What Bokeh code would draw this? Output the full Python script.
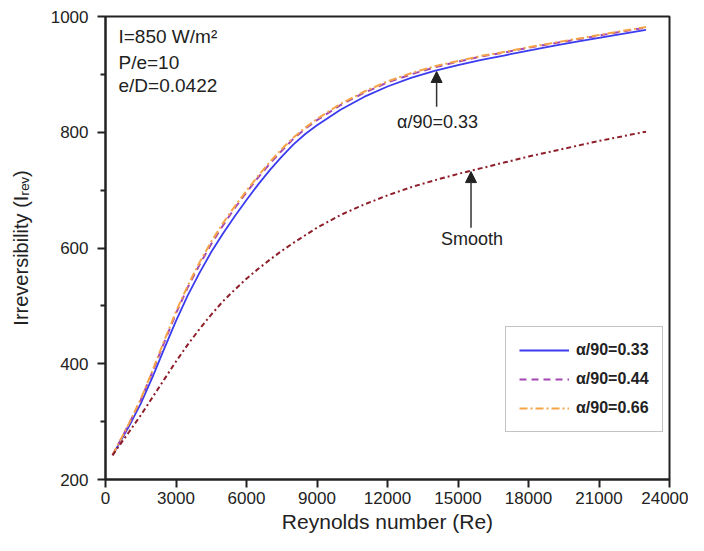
from bokeh.plotting import figure
from bokeh.models import Label, Arrow, NormalHead, FixedTicker, Range1d
from bokeh.embed import file_html
from bokeh.resources import INLINE

# ---- data ----
reynolds = [300, 1000, 1500, 2000, 2500, 3000, 3500, 4000, 4500, 5000,
            5500, 6000, 6500, 7000, 7500, 8000, 8500, 9000, 10000, 11000,
            12000, 13000, 14000, 15000, 16000, 17000, 18000, 19000, 20000,
            21000, 22000, 23000]
alpha_033 = [242, 292, 331, 377, 426, 474, 518, 557, 593, 625,
             655, 683, 710, 735, 758, 779, 797, 812, 839, 861,
             879, 894, 906, 916, 925, 933, 941, 949, 956, 963, 970, 977]
alpha_044 = [242, 296, 337, 386, 437, 487, 532, 571, 607, 639,
             669, 696, 722, 746, 768, 789, 806, 821, 847, 868,
             886, 900, 912, 922, 931, 938, 946, 953, 960, 967, 974, 981]
alpha_066 = [242, 297, 339, 388, 440, 490, 535, 575, 611, 643,
             672, 699, 725, 749, 771, 791, 808, 823, 849, 870,
             888, 902, 914, 923, 932, 939, 947, 954, 961, 968, 975, 982]
smooth = [242, 282, 311, 342, 373, 404, 433, 460, 485, 508,
          528, 547, 564, 580, 595, 609, 622, 635, 657, 675,
          691, 705, 717, 728, 738, 748, 758, 767, 776, 785, 793, 801]

x_ticks = [0, 3000, 6000, 9000, 12000, 15000, 18000, 21000, 24000]
y_ticks = [200, 400, 600, 800, 1000]
y_minor = [300, 500, 700, 900]

series_labels = ["α/90=0.33", "α/90=0.44", "α/90=0.66"]
info_lines = ["I=850 W/m²", "P/e=10", "e/D=0.0422"]

FONT = "Liberation Sans"
INK = "#222222"

p = figure(width=688, height=535,
           x_range=Range1d(0, 24000), y_range=Range1d(200, 1000),
           output_backend="svg", toolbar_location=None,
           min_border_left=105, min_border_right=19,
           min_border_top=16, min_border_bottom=56)
p.background_fill_color = "white"
p.border_fill_color = "white"
p.grid.visible = False
p.outline_line_color = INK
p.outline_line_width = 2

# curves
p.line(reynolds, alpha_033, line_color="#3b3bf0", line_width=1.8,
       legend_label=series_labels[0])
p.line(reynolds, alpha_044, line_color="#a347b5", line_width=2,
       line_dash="7 5", legend_label=series_labels[1])
p.line(reynolds, alpha_066, line_color="#f5a447", line_width=2,
       line_dash="8 3 2 3", legend_label=series_labels[2])
p.line(reynolds, smooth, line_color="#8e1f2a", line_width=2,
       line_dash="5 3 2 3")

# axes
for ax in (p.xaxis[0], p.yaxis[0]):
    ax.axis_line_width = 2
    ax.axis_line_color = INK
    ax.major_tick_line_color = INK
    ax.major_tick_line_width = 2
    ax.minor_tick_line_color = INK
    ax.minor_tick_line_width = 2
    ax.major_tick_in = 0
    ax.major_tick_out = 8
    ax.minor_tick_in = 0
    ax.minor_tick_out = 5
    ax.major_label_text_font = FONT
    ax.major_label_text_font_size = "17px"
    ax.major_label_text_color = INK

p.xaxis.ticker = FixedTicker(ticks=x_ticks, minor_ticks=[])
p.yaxis.ticker = FixedTicker(ticks=y_ticks, minor_ticks=y_minor)
p.xaxis.major_label_standoff = 4
p.yaxis.major_label_standoff = 9
p.xaxis.axis_label = "Reynolds number (Re)"
p.yaxis.axis_label = "Irreversibility (Iᵣₑᵥ)"
for ax in (p.xaxis[0], p.yaxis[0]):
    ax.axis_label_text_font = FONT
    ax.axis_label_text_font_style = "normal"
    ax.axis_label_text_color = INK
p.xaxis.axis_label_text_font_size = "21px"
p.yaxis.axis_label_text_font_size = "20px"
p.xaxis.axis_label_standoff = 3
p.yaxis.axis_label_standoff = 16

# info text top-left
for txt, yv in zip(info_lines, [966, 921, 880]):
    p.add_layout(Label(x=0, y=yv, x_offset=13, text=txt, text_font=FONT,
                       text_font_size="19px", text_color=INK,
                       text_align="left", text_baseline="middle"))

# annotations with arrows
p.add_layout(Arrow(end=NormalHead(size=11, fill_color=INK, line_color=INK),
                   x_start=14090, y_start=844, x_end=14090, y_end=905,
                   line_color="#333333", line_width=1.5))
p.add_layout(Label(x=14130, y=818, text=series_labels[0], text_font=FONT,
                   text_font_size="18px", text_color=INK,
                   text_align="center", text_baseline="middle"))
p.add_layout(Arrow(end=NormalHead(size=11, fill_color=INK, line_color=INK),
                   x_start=15554, y_start=635, x_end=15554, y_end=732,
                   line_color="#333333", line_width=1.5))
p.add_layout(Label(x=15600, y=616, text="Smooth", text_font=FONT,
                   text_font_size="18px", text_color=INK,
                   text_align="center", text_baseline="middle"))

# legend
lg = p.legend[0]
lg.location = (400, 47)
lg.label_text_font = FONT
lg.label_text_font_size = "16px"
lg.label_text_font_style = "bold"
lg.label_text_color = INK
lg.glyph_width = 50
lg.glyph_height = 20
lg.label_height = 20
lg.label_standoff = 7
lg.spacing = 9
lg.padding = 13
lg.border_line_color = "#888888"
lg.border_line_width = 1.5
lg.background_fill_alpha = 1.0

open("out.html", "w").write(file_html(p, INLINE))
